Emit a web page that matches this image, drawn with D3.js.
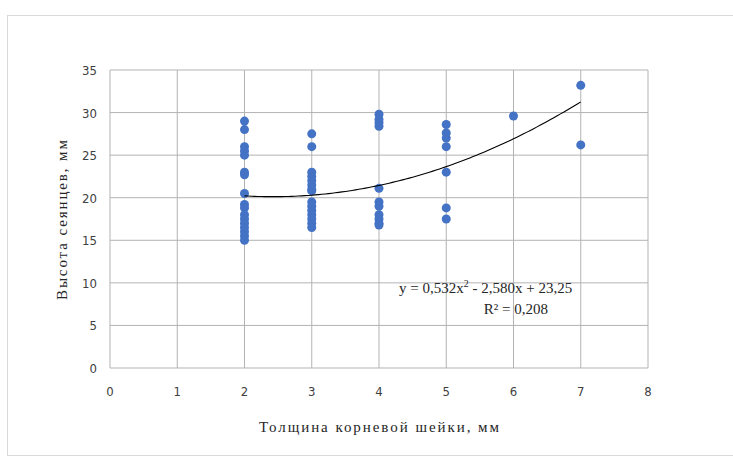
<!DOCTYPE html>
<html><head><meta charset="utf-8">
<script src="https://cdn.jsdelivr.net/npm/d3@7"></script>
<style>body{margin:0;background:#fff}svg{display:block}</style>
</head><body>
<svg id="c" width="733" height="464"></svg>
<script>
const xs2 = [29, 28, 26, 25.5, 25, 23, 22.7, 20.5, 19.2, 18.8, 18, 17.5, 17, 16.5, 16, 15.5, 15];
const xs3 = [27.5, 26, 23, 22.5, 22, 21.5, 21, 20.8, 19.5, 19, 18.5, 18, 17.5, 17, 16.5];
const xs4 = [29.8, 29.2, 28.8, 28.4, 21.1, 19.5, 19, 18, 17.5, 17, 16.8];
const xs5 = [28.6, 27.6, 27.0, 26.0, 23.0, 18.8, 17.5];
const xs6 = [29.6];
const xs7 = [33.2, 26.2];
const groups = [[2, xs2], [3, xs3], [4, xs4], [5, xs5], [6, xs6], [7, xs7]];
const coef = [0.532, -2.580, 23.25];
const xTicks = [0,1,2,3,4,5,6,7,8];
const yTicks = [0,5,10,15,20,25,30,35];
const xTitle = "Толщина корневой шейки, мм";
const yTitle = "Высота сеянцев, мм";

const svg = d3.select("#c");
const font = "Liberation Serif, Times New Roman, serif";
const sans = "DejaVu Sans Condensed, Liberation Sans, sans-serif";
svg.append("rect").attr("x",7.5).attr("y",15.5).attr("width",740).attr("height",440)
  .attr("fill","#fff").attr("stroke","#d9d9d9");

const x = d3.scaleLinear().domain([0,8]).range([110,648]);
const y = d3.scaleLinear().domain([0,35]).range([368,70]);

const g = svg.append("g");
g.selectAll("line.v").data(xTicks).join("line").attr("class","v")
  .attr("x1",d=>x(d)).attr("x2",d=>x(d)).attr("y1",y(0)).attr("y2",y(35))
  .attr("stroke","#b3b3b3").attr("stroke-width",1);
g.selectAll("line.h").data(yTicks).join("line").attr("class","h")
  .attr("x1",x(0)).attr("x2",x(8)).attr("y1",d=>y(d)).attr("y2",d=>y(d))
  .attr("stroke","#b3b3b3").attr("stroke-width",1);

g.selectAll("text.xt").data(xTicks).join("text").attr("class","xt")
  .attr("x",d=>x(d)).attr("y",396).attr("text-anchor","middle")
  .attr("font-family",sans).attr("font-size",13).attr("fill","#404040").text(d=>d);
g.selectAll("text.yt").data(yTicks).join("text").attr("class","yt")
  .attr("x",97).attr("y",d=>y(d)+5).attr("text-anchor","end")
  .attr("font-family",sans).attr("font-size",13).attr("fill","#404040").text(d=>d);

const pts = groups.flatMap(([gx, vals]) => vals.map(v => ({x:gx, y:v})));
g.selectAll("circle").data(pts).join("circle")
  .attr("cx",d=>x(d.x)).attr("cy",d=>y(d.y)).attr("r",4.5).attr("fill","#4472C4");

const f = t => coef[0]*t*t + coef[1]*t + coef[2];
const tr = d3.range(2, 7.0001, 0.05).map(t => [t, f(t)]);
g.append("path").attr("d", d3.line().x(d=>x(d[0])).y(d=>y(d[1]))(tr))
  .attr("fill","none").attr("stroke","#000").attr("stroke-width",1.1);

const eq = g.append("text").attr("x",399).attr("y",293)
  .attr("font-family",font).attr("font-size",15).attr("fill","#262626");
eq.append("tspan").text("y = 0,532x");
eq.append("tspan").attr("dy",-6).attr("font-size",10).text("2");
eq.append("tspan").attr("dy",6).text(" - 2,580x + 23,25");
g.append("text").attr("x",548).attr("y",314).attr("text-anchor","end")
  .attr("font-family",font).attr("font-size",15).attr("fill","#262626").text("R² = 0,208");

g.append("text").attr("x",379).attr("y",432).attr("text-anchor","middle")
  .attr("textLength",240).attr("lengthAdjust","spacing")
  .attr("font-family",font).attr("font-size",15).attr("fill","#262626").text(xTitle);
g.append("text").attr("transform","translate(67,220) rotate(-90)").attr("text-anchor","middle")
  .attr("textLength",160).attr("lengthAdjust","spacing")
  .attr("font-family",font).attr("font-size",15).attr("fill","#262626").text(yTitle);
</script>
</body></html>
